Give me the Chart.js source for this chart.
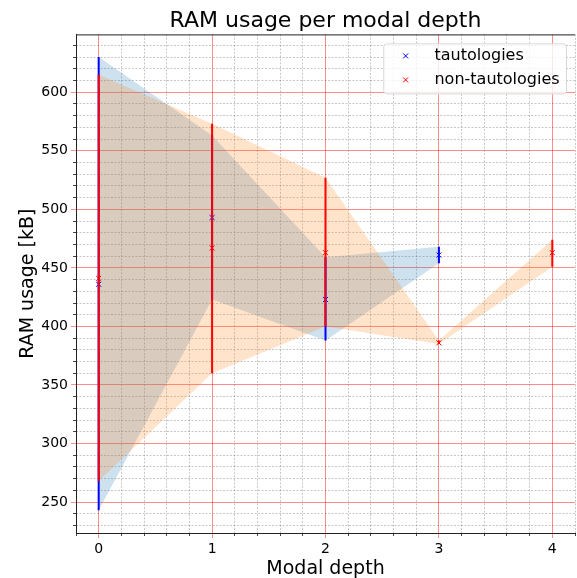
<!DOCTYPE html>
<html>
<head>
<meta charset="utf-8">
<script src="https://cdn.jsdelivr.net/npm/chart.js@4.4.0/dist/chart.umd.min.js"></script>
<style>
    html, body { margin: 0; padding: 0; background: #fff; overflow: hidden; }
    #ramChart { display: block; }
</style>
</head>
<body>
<canvas id="ramChart" width="580" height="578"></canvas>
<script>
// Data
const tautDepths = [0, 1, 2, 3];
const tautMean = [436, 493, 423, 461];
const tautMin = [243, 423, 388, 454];
const tautMax = [630, 563, 459, 468];

const nonTautDepths = [0, 1, 2, 3, 4];
const nonTautMean = [441, 467, 463, 386, 463];
const nonTautMin = [268, 360, 400, 385, 451];
const nonTautMax = [615, 573, 527, 388, 474];

const seriesLabels = ['tautologies', 'non-tautologies'];
const xTicks = [0, 1, 2, 3, 4];
const yTicks = [250, 300, 350, 400, 450, 500, 550, 600];

const FONT = '"DejaVu Sans", sans-serif';

// Helpers to turn the arrays into point lists
function toPoints(xs, ys) {
    return xs.map((x, i) => ({ x: x, y: ys[i] }));
}

// one small line dataset per error bar
function errorBarDatasets(xs, lo, hi, color, order) {
    return xs.map((x, i) => ({
        data: [{ x: x, y: lo[i] }, { x: x, y: hi[i] }],
        borderColor: color,
        borderWidth: 2,
        pointRadius: 0,
        fill: false,
        order: order
    }));
}

function isNear(v, step) {
    const r = v / step;
    return Math.abs(r - Math.round(r)) < 1e-6;
}

// Top spine + legend box, drawn like matplotlib
const frameAndLegend = {
    id: 'frameAndLegend',
    afterDraw(chart) {
        const ctx = chart.ctx;
        const area = chart.chartArea;
        ctx.save();
        ctx.strokeStyle = '#222';
        ctx.lineWidth = 1;
        ctx.beginPath();
        ctx.moveTo(area.left, area.top + 0.5);
        ctx.lineTo(area.right, area.top + 0.5);
        ctx.stroke();

        // legend
        const fs = 16;
        ctx.font = fs + 'px ' + FONT;
        const textW = Math.max(...seriesLabels.map(t => ctx.measureText(t).width));
        const pad = 0.4 * fs;
        const handle = 2 * fs;
        const gap = 0.8 * fs;
        const rowH = 24;
        const boxW = pad + handle + gap + textW + pad;
        const boxH = 50;
        const boxX = area.right - 9 - boxW;
        const boxY = area.top + 9;
        ctx.beginPath();
        ctx.roundRect(boxX + 0.5, boxY + 0.5, boxW, boxH, 3);
        ctx.fillStyle = 'rgba(255,255,255,0.8)';
        ctx.fill();
        ctx.strokeStyle = '#d8d8d8';
        ctx.stroke();

        const colors = ['#0000ff', '#ff0000'];
        seriesLabels.forEach((label, i) => {
            const cy = boxY + 12.5 + i * rowH;
            const mx = boxX + pad + handle / 2;
            const m = 2.5;
            ctx.strokeStyle = colors[i];
            ctx.lineWidth = 1;
            ctx.beginPath();
            ctx.moveTo(mx - m, cy - m);
            ctx.lineTo(mx + m, cy + m);
            ctx.moveTo(mx - m, cy + m);
            ctx.lineTo(mx + m, cy - m);
            ctx.stroke();
            ctx.fillStyle = '#000';
            ctx.textBaseline = 'middle';
            ctx.textAlign = 'left';
            ctx.fillText(label, boxX + pad + handle + gap, cy);
        });
        ctx.restore();
    }
};

function drawChart() {
    const ctx = document.getElementById('ramChart').getContext('2d');

    const majorGrid = 'rgba(255, 0, 0, 0.45)';
    const minorGrid = 'rgba(0, 0, 0, 0.22)';

    const datasets = [
        {
            // tautologies band (max -> min)
            data: toPoints(tautDepths, tautMax),
            borderWidth: 0,
            pointRadius: 0,
            fill: '+1',
            backgroundColor: 'rgba(31, 119, 180, 0.22)',
            order: 10
        },
        {
            data: toPoints(tautDepths, tautMin),
            borderWidth: 0,
            pointRadius: 0,
            fill: false,
            order: 10
        },
        {
            // non-tautologies band (max -> min)
            data: toPoints(nonTautDepths, nonTautMax),
            borderWidth: 0,
            pointRadius: 0,
            fill: '+1',
            backgroundColor: 'rgba(255, 127, 14, 0.22)',
            order: 9
        },
        {
            data: toPoints(nonTautDepths, nonTautMin),
            borderWidth: 0,
            pointRadius: 0,
            fill: false,
            order: 9
        },
        {
            label: seriesLabels[0],
            type: 'scatter',
            data: toPoints(tautDepths, tautMean),
            pointStyle: 'crossRot',
            pointRadius: 3.5,
            borderWidth: 1,
            borderColor: '#0000ff',
            showLine: false,
            order: 4
        },
        {
            label: seriesLabels[1],
            type: 'scatter',
            data: toPoints(nonTautDepths, nonTautMean),
            pointStyle: 'crossRot',
            pointRadius: 3.5,
            borderWidth: 1,
            borderColor: '#ff0000',
            showLine: false,
            order: 2
        }
    ].concat(
        errorBarDatasets(tautDepths, tautMin, tautMax, '#0000ff', 5),
        errorBarDatasets(nonTautDepths, nonTautMin, nonTautMax, '#ff0000', 3)
    );

    new Chart(ctx, {
        type: 'line',
        data: { datasets: datasets },
        options: {
            responsive: false,
            animation: false,
            events: [],
            layout: {
                padding: { left: 0, right: 0, top: 0, bottom: 0 }
            },
            scales: {
                x: {
                    type: 'linear',
                    position: 'bottom',
                    min: -0.2,
                    max: 4.2,
                    weight: 1,
                    afterBuildTicks: scale => {
                        scale.ticks = xTicks.map(v => ({ value: v }));
                    },
                    ticks: {
                        font: { family: FONT, size: 14 },
                        color: '#000',
                        padding: 3
                    },
                    grid: {
                        color: majorGrid,
                        tickColor: majorGrid,
                        tickLength: 5,
                        lineWidth: 1
                    },
                    border: { color: '#222', width: 1 },
                    title: {
                        display: true,
                        text: 'Modal depth',
                        font: { family: FONT, size: 19, lineHeight: 1 },
                        color: '#000',
                        padding: { top: 0, bottom: -1 }
                    },
                    afterFit: scale => { scale.height = 45; }
                },
                xMinor: {
                    type: 'linear',
                    position: 'bottom',
                    min: -0.2,
                    max: 4.2,
                    weight: 0,
                    ticks: { display: false, stepSize: 0.2, includeBounds: false },
                    grid: {
                        color: c => isNear(c.tick.value, 1) ? 'rgba(0,0,0,0)' : minorGrid,
                        tickColor: c => isNear(c.tick.value, 1) ? 'rgba(0,0,0,0)' : '#444',
                        tickLength: 3,
                        lineWidth: 1
                    },
                    border: { display: false, dash: [2, 1.5] },
                    afterFit: scale => { scale.height = 0; }
                },
                y: {
                    type: 'linear',
                    position: 'left',
                    min: 223.6,
                    max: 649.4,
                    weight: 1,
                    afterBuildTicks: scale => {
                        scale.ticks = yTicks.map(v => ({ value: v }));
                    },
                    ticks: {
                        font: { family: FONT, size: 14 },
                        color: '#000',
                        padding: 3
                    },
                    grid: {
                        color: majorGrid,
                        tickColor: majorGrid,
                        tickLength: 5,
                        lineWidth: 1
                    },
                    border: { color: '#222', width: 1 },
                    title: {
                        display: true,
                        text: 'RAM usage [kB]',
                        font: { family: FONT, size: 19 },
                        color: '#000',
                        padding: { top: 17 }
                    },
                    afterFit: scale => { scale.width = 76; }
                },
                yMinor: {
                    type: 'linear',
                    position: 'left',
                    min: 223.6,
                    max: 649.4,
                    weight: 0,
                    ticks: { display: false, stepSize: 10, includeBounds: false },
                    grid: {
                        color: c => isNear(c.tick.value, 50) ? 'rgba(0,0,0,0)' : minorGrid,
                        tickColor: c => isNear(c.tick.value, 50) ? 'rgba(0,0,0,0)' : '#444',
                        tickLength: 3,
                        lineWidth: 1
                    },
                    border: { display: false, dash: [2, 1.5] },
                    afterFit: scale => { scale.width = 0; }
                }
            },
            plugins: {
                legend: { display: false },
                tooltip: { enabled: false },
                title: {
                    display: true,
                    text: 'RAM usage per modal depth',
                    fullSize: false,
                    font: { family: FONT, size: 22, weight: 'normal' },
                    color: '#000',
                    padding: { top: 8, bottom: 0 }
                }
            }
        },
        plugins: [frameAndLegend]
    });
}

drawChart();
</script>
</body>
</html>
